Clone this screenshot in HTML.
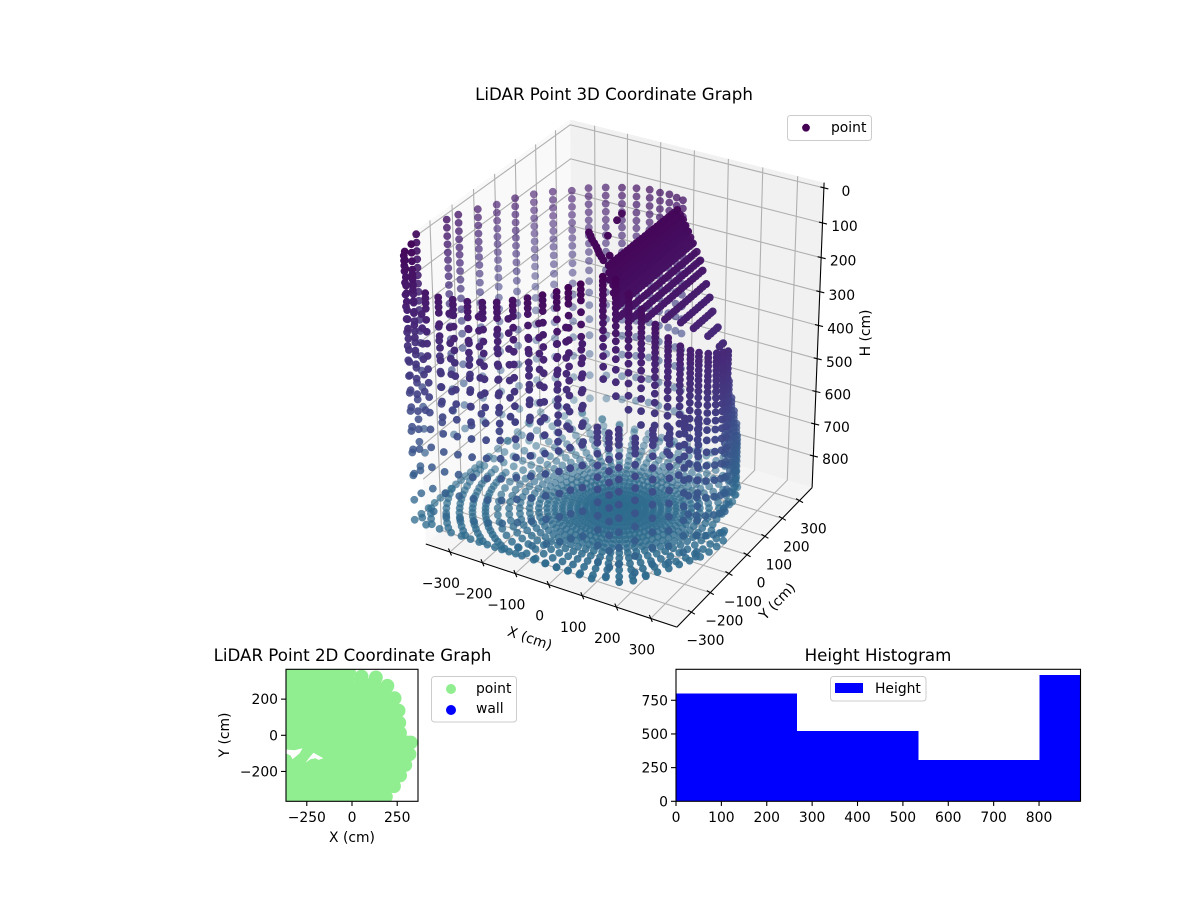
<!DOCTYPE html>
<html>
<head>
<meta charset="utf-8">
<title>LiDAR Point Graphs</title>
<style>
html,body{margin:0;padding:0;background:#fff;}
svg{display:block;}
text{font-family:"DejaVu Sans","Liberation Sans",sans-serif;fill:#000;}
.title{font-size:16.67px;text-anchor:middle;}
.tick{font-size:13.89px;}
.leg{fill:#fff;fill-opacity:.8;stroke:#ccc;stroke-width:1;}
</style>
</head>
<body>
<svg id="fig" xmlns="http://www.w3.org/2000/svg" width="1200" height="900" viewBox="0 0 1200 900">
  <rect width="1200" height="900" fill="#fff"/>
  <g id="panes"></g>
  <g id="grid3d"></g>
  <g id="axes3d"></g>
  <g id="points3d"></g>
  <text class="title" x="614" y="100">LiDAR Point 3D Coordinate Graph</text>
  <text class="tick" text-anchor="middle" transform="translate(530,638) rotate(19)" dy="5">X (cm)</text>
  <text class="tick" text-anchor="middle" transform="translate(777,601) rotate(-46)" dy="5">Y (cm)</text>
  <text class="tick" text-anchor="middle" transform="translate(865,333) rotate(-90)" dy="5">H (cm)</text>
  <g>
    <rect class="leg" x="787.5" y="115.5" width="84" height="25" rx="3"/>
    <circle cx="806" cy="127.7" r="3.9" fill="#440154"/>
    <text class="tick" x="831" y="132">point</text>
  </g>

  <defs><clipPath id="clip2d"><rect x="286" y="669.3" width="132" height="132"/></clipPath></defs>
  <g id="plan" clip-path="url(#clip2d)"></g>
  <rect x="286" y="669.3" width="132" height="132" fill="none" stroke="#000" stroke-width="1.1"/>
  <g id="axes2d"></g>
  <text class="title" x="352.5" y="661">LiDAR Point 2D Coordinate Graph</text>
  <text class="tick" text-anchor="middle" x="352" y="842">X (cm)</text>
  <text class="tick" text-anchor="middle" transform="translate(229,735) rotate(-90)">Y (cm)</text>
  <g>
    <rect class="leg" x="431.5" y="676.5" width="85" height="45.5" rx="3"/>
    <circle cx="451" cy="689" r="5" fill="#90ee90"/>
    <text class="tick" x="476" y="693">point</text>
    <circle cx="451" cy="710" r="5" fill="#0000ff"/>
    <text class="tick" x="476" y="713">wall</text>
  </g>

  <g id="hist" shape-rendering="crispEdges"></g>
  <rect x="676" y="669.3" width="404.5" height="132" fill="none" stroke="#000" stroke-width="1.1"/>
  <g id="axesHist"></g>
  <text class="title" x="878" y="661">Height Histogram</text>
  <g>
    <rect class="leg" x="830.5" y="676.5" width="95.5" height="24.5" rx="3"/>
    <rect x="835" y="683" width="28" height="10" fill="#0000ff"/>
    <text class="tick" x="875" y="693">Height</text>
  </g>
</svg>
<script>
/* ---------- tick labels ---------- */
const xTicks3d = [-300,-200,-100,0,100,200,300];
const yTicks3d = [-300,-200,-100,0,100,200,300];
const hTicks3d = [0,100,200,300,400,500,600,700,800];
const xTicks2d = [-250,0,250];
const yTicks2d = [-200,0,200];
const histXTicks = [0,100,200,300,400,500,600,700,800];
const histYTicks = [0,250,500,750];

/* ---------- histogram data ---------- */
const histEdges = [0,267,534,801,890];
const histCounts = [802,522,306,937];

/* ---------- far wall scan columns (cm) ---------- */
const farColX = [-420,-420,-480,-500,-500,-500,-500,-450,-450,-400,-357,-305,-252,-202,-158,-118,-87,-59,-37,-18];
const farColY = [-350,-320,-210,-40,15,108,200,213,307,323,350,350,350,350,350,350,350,350,350,350];
const farColTopH = [61,54,91,130,140,165,192,166,195,182,180,159,144,132,123,117,118,116,120,123];
const farRowOffsets = [0,24,48,72,96,118,142,166,192,219,248,281,316,355,399,449,508,576,650];

/* ---------- near wall scan columns (cm) ---------- */
const nearColX = [-430,-400,-360,-318,-275,-232,-188,-146,-100,-57,-14,26,59,94,135,165,190,225,255,280,300,315];
const nearColY = [-340,-350,-355,-360,-360,-360,-360,-360,-360,-360,-360,-360,-360,-360,-355,-350,-345,-325,-290,-250,-210,-165];
const nearColTopH = [80,120,160,158,153,147,137,125,107,89,69,49,29,10,400,410,395,420,405,415,400,420];
const nearRowOffsets = [0,14,28,44,76,110,144,180,218,258,300,346,396,450,510,575,645,720];

/* ---------- staggered near-room columns (cm) ---------- */
const midColX = [-380,-340,-297,-254,-210,-167,-123,-78,-35,6,42,76];
const midColY = [-345,-330,-345,-325,-345,-330,-345,-325,-345,-330,-345,-325];
const midColTopH = [230,262,205,248,190,236,172,226,160,214,150,196];
const midRowOffsets = [0,40,85,130,175,225,280];

/* ---------- right wall scan columns (cm) ---------- */
const rightColX = [120,150,180,210,240,265,285,300,310,320,325,325,320,290,285,275,265,255,240,220,200];
const rightColY = [-300,-290,-280,-270,-255,-235,-210,-185,-160,-130,-95,-60,-25,25,50,85,120,155,190,225,255];
const rightColTopH = [10,15,50,90,130,170,200,220,235,250,265,280,295,380,430,500,560,620,680,730,770];
const rightColBottomH = [330,340,380,430,480,520,600,700,840,840,840,840,840,840,840,840,840,840,840,840,840];
const rightRowOffsets = [0,12,24,36,50,64,78,94,110,128,148,170,194,220,250,285,325,370,420,475,535,600,670];

/* ---------- sloped ceiling rows (cm) ---------- */
const roofRowX = [75,85,95,105,115,125,135,150,165,180,200,220,240,265,290];
const roofRowH = [40,50,60,72,84,96,108,125,142,160,185,210,235,265,295];
const roofRowYMin = [-200,-212,-225,-235,-245,-250,-258,-270,-248,-200,-141,-90,-60,-30,-15];
const roofRowYMax = [150,148,145,140,135,130,125,118,110,95,78,60,40,22,5];
const roofColY = [-270,-255,-240,-225,-210,-195,-180,-165,-150,-135,-120,-105,-90,-75,-60,-45,-30,-15,0,15,30,45,60,75,90,105,120,135,150];

/* ---------- isolated object returns (cm) ---------- */
const objectX = [-36,-29,-6,-56,-43,-30,-15,-1,12,24,37,50,51];
const objectY = [62,25,-60,-68,-82,-97,-111,-125,-139,-153,-165,-178,-149];
const objectH = [40,40,40,40,40,40,40,40,40,40,40,40,40];

/* ---------- floor scan: spokes and rings around the scanner nadir ---------- */
const floorCenterX = 15;
const floorCenterY = -40;
const floorH = 850;
const spokeAzimuth = [0,6,12,18,24,30,36,42,48,54,60,66,72,78,84,90,96,102,108,114,120,126,132,138,144,150,156,162,168,174,180,183,186,189,192,195,198,201,204,207,210,213,216,219,222,225,228,231,234,237,240,243,246,249,252,258,264,270,276,282,288,294,300,306,312,318,324,330,336,342,348,354];
const spokeMaxRange = [310,295,256,260,270,275,300,315,330,340,362,370,379,374,367,365,367,374,385,402,425,457,500,558,538,502,476,457,445,437,435,436,437,441,445,451,457,466,476,488,502,520,538,510,478,452,430,412,396,382,370,360,350,342,336,327,322,320,322,327,336,325,345,340,325,315,310,306,306,310,310,310];
const ringRange = [14,30,50,70,90,110,130,150,170,190,212,236,262,290,320,352,386,420,455,495,545,600];
const coarseRingStart = 330;

/* ---------- 2D hole outlines (cm) ---------- */
const notchOneX = [-380,-318,-274,-290,-329,-340,-380];
const notchOneY = [-77,-83,-72,-100,-133,-111,-94];
const notchTwoX = [-257,-235,-213,-185,-158,-185,-202,-230];
const notchTwoY = [-152,-122,-96,-112,-127,-136,-127,-132];

/* ---------- colour ramp ---------- */
const rampPos = [0,0.1,0.2,0.3,0.35];
const rampRGB = [[68,1,84],[72,36,117],[65,68,135],[53,95,141],[47,108,142]];

/* ---------- helpers ---------- */
const NS = 'http://www.w3.org/2000/svg';
function mk(tag, attrs, parent){
  const e = document.createElementNS(NS, tag);
  for (const k in attrs) e.setAttribute(k, attrs[k]);
  parent.appendChild(e);
  return e;
}
function lab(v){ return String(v).replace('-', '\u2212'); }

/* ---------- 3D axis functions ---------- */
const limXY = 375, hTop = -15, hBottom = 900;
const halfXY = 0.50655, halfZ = 0.618;
const persp = 2877, cxPx = 622, cyPx = 366;
function project(x, y, h){
  const dx = x / limXY * halfXY;
  const dy = y / limXY * halfXY;
  const hc = (hTop + hBottom) / 2, hs = (hBottom - hTop) / 2;
  const dz = (hc - h) / hs * halfZ;
  const u = 0.866025 * dx + 0.5 * dy;
  const v = -0.25 * dx + 0.433013 * dy + 0.866025 * dz;
  const w = 0.433013 * dx - 0.75 * dy + 0.5 * dz;
  const depth = 10 - w;
  return [cxPx + persp * u / depth, cyPx - persp * v / depth, w];
}
function pathOf(pts){
  return pts.map((p,i)=>{ const q = project(p[0],p[1],p[2]); return (i?'L':'M')+q[0].toFixed(1)+' '+q[1].toFixed(1); }).join(' ');
}
function viridis(h){
  const t = Math.max(0, h) / 850 * 0.35;
  let i = 0;
  while (i < rampPos.length - 2 && t > rampPos[i+1]) i++;
  const f = Math.min(1, (t - rampPos[i]) / (rampPos[i+1] - rampPos[i]));
  const c = rampRGB[i].map((a,k)=>Math.round(a + (rampRGB[i+1][k]-a)*f));
  return 'rgb('+c.join(',')+')';
}

/* ---------- panes ---------- */
const L = limXY;
const panesG = document.getElementById('panes');
const paneLeft = mk('path', {d: pathOf([[-L,-L,hBottom],[-L,L,hBottom],[-L,L,hTop],[-L,-L,hTop]])+'Z', fill:'#f9f9f9'}, panesG);


const paneBack = mk('path', {d: pathOf([[-L,L,hBottom],[L,L,hBottom],[L,L,hTop],[-L,L,hTop]])+'Z', fill:'#f1f1f1'}, panesG);


const paneFloor = mk('path', {d: pathOf([[-L,-L,hBottom],[L,-L,hBottom],[L,L,hBottom],[-L,L,hBottom]])+'Z', fill:'#f5f5f5'}, panesG);



/* ---------- grid ---------- */
const gridG = document.getElementById('grid3d');
const gridStyle = {fill:'none', stroke:'#b0b0b0', 'stroke-width':1.1};
xTicks3d.forEach(t=>{
  const g = mk('path', Object.assign({d: pathOf([[t,L,hTop],[t,L,hBottom],[t,-L,hBottom]])}, gridStyle), gridG);
  
  
});
yTicks3d.forEach(t=>{
  const g = mk('path', Object.assign({d: pathOf([[-L,t,hTop],[-L,t,hBottom],[L,t,hBottom]])}, gridStyle), gridG);
  
  
});
hTicks3d.forEach(t=>{
  const g = mk('path', Object.assign({d: pathOf([[-L,-L,t],[-L,L,t],[L,L,t]])}, gridStyle), gridG);
  
  
});

/* ---------- axis lines, ticks, labels ---------- */
const axG = document.getElementById('axes3d');
const axisStyle = {fill:'none', stroke:'#000', 'stroke-width':1.1};
const axX = mk('path', Object.assign({d: pathOf([[-L,-L,hBottom],[L,-L,hBottom]])}, axisStyle), axG);


const axY = mk('path', Object.assign({d: pathOf([[L,-L,hBottom],[L,L,hBottom]])}, axisStyle), axG);


const axH = mk('path', Object.assign({d: pathOf([[L,L,hBottom],[L,L,hTop]])}, axisStyle), axG);



function tick3d(p, d1, d2, parent){
  const t = mk('line', {x1:p[0]+d1[0], y1:p[1]+d1[1], x2:p[0]+d2[0], y2:p[1]+d2[1], stroke:'#000', 'stroke-width':1.1}, parent);
  
  
}
function label3d(p, dx, dy, txt, parent){
  const t = mk('text', {x:p[0]+dx, y:p[1]+dy+5, class:'tick', 'text-anchor':'middle'}, parent);
  
  
  t.textContent = txt;
}
xTicks3d.forEach(t=>{
  const p = project(t,-L,hBottom);
  tick3d(p,[-1.5,-3.5],[1.5,3.5],axG);
  label3d(p,-9,31,lab(t),axG);
});
yTicks3d.forEach(t=>{
  const p = project(L,t,hBottom);
  tick3d(p,[-3.5,-2],[3.5,2],axG);
  label3d(p,14,28,lab(t),axG);
});
hTicks3d.forEach(t=>{
  const p = project(L,L,t);
  tick3d(p,[-3.5,-1],[4.5,1],axG);
  label3d(p,22,3,lab(t),axG);
});

/* ---------- build point cloud from data arrays ---------- */
const cloud = [];
const planPoints = [];
function addColumns(xs, ys, tops, offsets, limits){
  xs.forEach((x,i)=>{
    offsets.forEach(o=>{
      const h = tops[i] + o;
      if (h <= limits(i)) {
        cloud.push([x, ys[i], h]);
        if (x < 50) planPoints.push([x, ys[i]]);
      }
    });
  });
}
addColumns(farColX, farColY, farColTopH, farRowOffsets, i => 845);
addColumns(nearColX, nearColY, nearColTopH, nearRowOffsets, i => 840);
addColumns(midColX, midColY, midColTopH, midRowOffsets, i => 800);
addColumns(rightColX, rightColY, rightColTopH, rightRowOffsets, i => rightColBottomH[i]);
roofRowX.forEach((x,i)=>{
  roofColY.concat([roofRowYMax[i]]).forEach(y=>{
    if (y >= roofRowYMin[i] && y <= roofRowYMax[i]) cloud.push([x, y, roofRowH[i]]);
  });
});
objectX.forEach((x,i)=>{ cloud.push([x, objectY[i], objectH[i]]); });
spokeAzimuth.forEach((a,i)=>{
  const rad = a * Math.PI / 180;
  const inPlan = a % 12 === 0 || Math.cos(rad) < 0;
  const coarse = a % 6 !== 0;
  ringRange.concat([spokeMaxRange[i]]).forEach(r=>{
    if (r <= spokeMaxRange[i] && !(coarse && r < coarseRingStart)) {
      const px = floorCenterX + r*Math.cos(rad);
      const py = floorCenterY + r*Math.sin(rad);
      cloud.push([px, py, floorH]);
      if (inPlan) planPoints.push([px, py]);
    }
  });
});

/* ---------- 3D scatter ---------- */
const ptsG = document.getElementById('points3d');
cloud.map(p=>({p:p, q:project(p[0],p[1],p[2])}))
  .sort((a,b)=>a.q[2]-b.q[2])
  .forEach(o=>{
    const alpha = Math.max(0.4, Math.min(1, 0.85 + 0.55*o.q[2]));
    const c = mk('circle', {cx:o.q[0].toFixed(1), cy:o.q[1].toFixed(1), r:3.9, fill:viridis(o.p[2]), 'fill-opacity':alpha.toFixed(2)}, ptsG);
    
    
  });

/* ---------- 2D scatter ---------- */
const planG = document.getElementById('plan');
const scale2d = 132 / 730;
function x2d(v){ return 352 + v * scale2d; }
function y2d(v){ return 735.3 - v * scale2d; }
planPoints.forEach(p=>{
  const c = mk('circle', {cx:x2d(p[0]).toFixed(1), cy:y2d(p[1]).toFixed(1), r:6.9, fill:'#90ee90'}, planG);
  
  
});
const n1 = mk('polygon', {points: notchOneX.map((x,i)=>x2d(x).toFixed(1)+','+y2d(notchOneY[i]).toFixed(1)).join(' '), fill:'#fff'}, planG);


const n2 = mk('polygon', {points: notchTwoX.map((x,i)=>x2d(x).toFixed(1)+','+y2d(notchTwoY[i]).toFixed(1)).join(' '), fill:'#fff'}, planG);



const ax2 = document.getElementById('axes2d');
xTicks2d.forEach(t=>{
  const m = mk('line', {x1:x2d(t), x2:x2d(t), y1:801.3, y2:806, stroke:'#000', 'stroke-width':1.1}, ax2);
  
  
  const l = mk('text', {x:x2d(t), y:822, class:'tick', 'text-anchor':'middle'}, ax2);
  
  
  l.textContent = lab(t);
});
yTicks2d.forEach(t=>{
  const m = mk('line', {x1:281, x2:286, y1:y2d(t), y2:y2d(t), stroke:'#000', 'stroke-width':1.1}, ax2);
  
  
  const l = mk('text', {x:278, y:y2d(t)+5, class:'tick', 'text-anchor':'end'}, ax2);
  
  
  l.textContent = lab(t);
});

/* ---------- histogram ---------- */
function hx(v){ return 676 + v * 0.4538; }
function hy(v){ return 801.3 - v * 0.1347; }
const histG = document.getElementById('hist');
histCounts.forEach((n,i)=>{
  const b = mk('rect', {x:hx(histEdges[i]), y:hy(n), width:hx(histEdges[i+1])-hx(histEdges[i]), height:801.3-hy(n), fill:'#0000ff'}, histG);
  
  
});
const axHist = document.getElementById('axesHist');
histXTicks.forEach(t=>{
  const m = mk('line', {x1:hx(t), x2:hx(t), y1:801.3, y2:806, stroke:'#000', 'stroke-width':1.1}, axHist);
  
  
  const l = mk('text', {x:hx(t), y:822, class:'tick', 'text-anchor':'middle'}, axHist);
  
  
  l.textContent = lab(t);
});
histYTicks.forEach(t=>{
  const m = mk('line', {x1:671, x2:676, y1:hy(t), y2:hy(t), stroke:'#000', 'stroke-width':1.1}, axHist);
  
  
  const l = mk('text', {x:668, y:hy(t)+5, class:'tick', 'text-anchor':'end'}, axHist);
  
  
  l.textContent = lab(t);
});
</script>
</body>
</html>
